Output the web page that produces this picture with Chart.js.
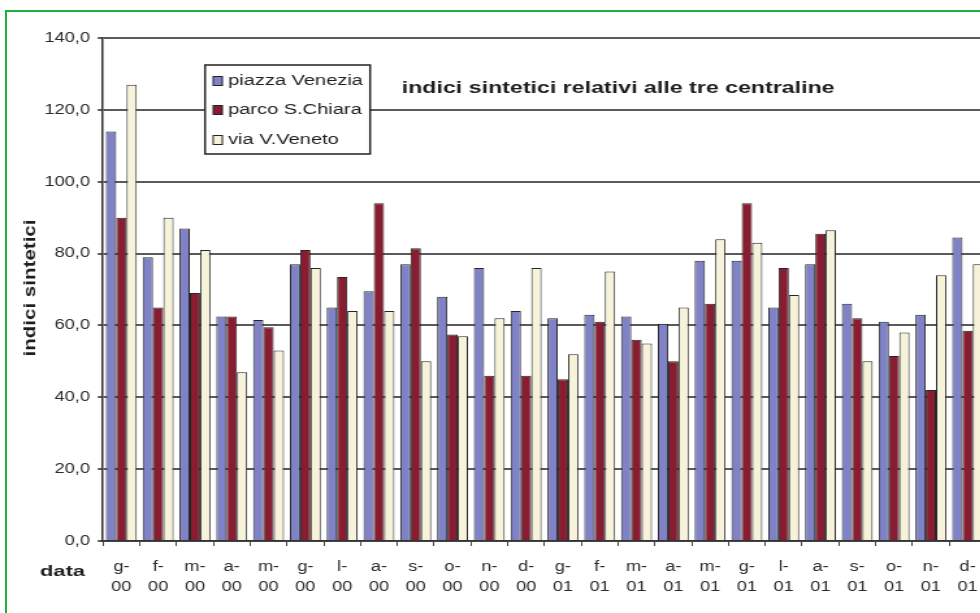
<!DOCTYPE html>
<html lang="it">
<head>
    <meta charset="UTF-8">
    <title>Indici sintetici relativi alle tre centraline</title>
    <script src="https://cdn.jsdelivr.net/npm/chart.js"></script>
    <style>
        body {
            margin: 0;
            background: #fff;
            overflow: hidden;
            width: 980px;
            height: 613px;
            position: relative;
        }
        #frame {
            position: absolute;
            left: 5px;
            top: 10px;
            width: 1000px;
            height: 700px;
            border: 2px solid #1fb13b;
        }
        #wrap {
            position: absolute;
            left: 0;
            top: 0;
            transform: scaleX(1.3);
            transform-origin: 0 0;
        }
    </style>
</head>
<body>
    <div id="frame"></div>
    <div id="wrap">
        <canvas id="chart" width="770" height="613"></canvas>
    </div>
    <script>
        // months (g = gennaio ... d = dicembre), years 00 and 01
        const months = ['g-', 'f-', 'm-', 'a-', 'm-', 'g-', 'l-', 'a-', 's-', 'o-', 'n-', 'd-'];
        const years = ['00', '01'];
        const categories = [];
        years.forEach(y => months.forEach(m => categories.push([m, y])));

        const piazzaVenezia = [114, 79, 87, 62.5, 61.5, 77, 65, 69.5, 77, 68, 76, 64,
                               62, 63, 62.5, 60.5, 78, 78, 65, 77, 66, 61, 63, 84.5];
        const parcoSChiara  = [90, 65, 69, 62.5, 59.5, 81, 73.5, 94, 81.5, 57.5, 46, 46,
                               45, 61, 56, 50, 66, 94, 76, 85.5, 62, 51.5, 42, 58.5];
        const viaVVeneto    = [127, 90, 81, 47, 53, 76, 64, 64, 50, 57, 62, 76,
                               52, 75, 55, 65, 84, 83, 68.5, 86.5, 50, 58, 74, 77];

        const seriesNames = ['piazza Venezia', 'parco S.Chiara', 'via V.Veneto'];
        const seriesColors = ['#7f82c6', '#881c30', '#f7f3da'];

        const chartTitle = 'indici sintetici relativi alle tre centraline';
        const yTitle = 'indici sintetici';
        const xTitle = 'data';

        // draw text stretched to a given width
        function fitText(ctx, text, x, y, w, font, rotate) {
            ctx.save();
            ctx.font = font;
            ctx.fillStyle = '#1e1e1e';
            const m = ctx.measureText(text).width;
            ctx.translate(x, y);
            if (rotate) ctx.rotate(-Math.PI / 2);
            ctx.scale(w / m, 1);
            ctx.textAlign = rotate ? 'center' : 'left';
            ctx.textBaseline = 'middle';
            ctx.fillText(text, 0, 0);
            ctx.restore();
        }

        const extras = {
            id: 'extras',
            afterDraw(chart) {
                const ctx = chart.ctx;

                // legend box
                ctx.save();
                ctx.fillStyle = '#fff';
                ctx.strokeStyle = '#222';
                ctx.lineWidth = 1.5;
                ctx.fillRect(157.7, 65, 127, 89);
                ctx.strokeRect(157.7, 65, 127, 89);
                ctx.font = '14px Arial, "Liberation Sans"';
                const sc = 103.8 / ctx.measureText(seriesNames[0]).width;
                const rows = [81, 110, 140];
                seriesNames.forEach((name, i) => {
                    ctx.fillStyle = seriesColors[i];
                    ctx.fillRect(164, rows[i] - 4.5, 7, 9);
                    ctx.strokeStyle = '#222';
                    ctx.lineWidth = 1;
                    ctx.strokeRect(164, rows[i] - 4.5, 7, 9);
                    ctx.save();
                    ctx.fillStyle = '#1e1e1e';
                    ctx.translate(175.4, rows[i]);
                    ctx.scale(sc, 1);
                    ctx.textBaseline = 'middle';
                    ctx.fillText(name, 0, 0);
                    ctx.restore();
                });
                ctx.restore();

                fitText(ctx, chartTitle, 309, 88, 333, 'bold 17px Arial, "Liberation Sans"');
                fitText(ctx, xTitle, 30.8, 572, 34.6, 'bold 15px Arial, "Liberation Sans"');
                fitText(ctx, yTitle, 23.8, 288, 137, 'bold 13px Arial, "Liberation Sans"', true);
            }
        };

        new Chart(document.getElementById('chart'), {
            type: 'bar',
            data: {
                labels: categories,
                datasets: [piazzaVenezia, parcoSChiara, viaVVeneto].map((d, i) => ({
                    label: seriesNames[i],
                    data: d,
                    backgroundColor: seriesColors[i],
                    borderColor: '#262626',
                    borderWidth: 1,
                    categoryPercentage: 0.84,
                    barPercentage: 1.0
                }))
            },
            options: {
                responsive: false,
                animation: false,
                layout: { padding: { top: 38, right: 11.5, left: 0, bottom: 0 } },
                plugins: {
                    legend: { display: false },
                    tooltip: { enabled: false }
                },
                scales: {
                    x: {
                        afterFit: s => { s.height = 72; },
                        grid: {
                            drawOnChartArea: false,
                            drawTicks: true,
                            tickLength: 5,
                            color: '#444'
                        },
                        border: { color: '#333', width: 1.5 },
                        ticks: {
                            color: '#2a2a2a',
                            padding: 11,
                            maxRotation: 0,
                            autoSkip: false,
                            font: { family: 'Arial, "Liberation Sans"', size: 14, lineHeight: 1.43 }
                        }
                    },
                    y: {
                        min: 0,
                        max: 140,
                        afterFit: s => { s.width = 79.2; },
                        grid: {
                            color: '#5a5a5a',
                            lineWidth: 2,
                            tickLength: 4
                        },
                        border: { color: '#333', width: 1.5 },
                        ticks: {
                            stepSize: 20,
                            color: '#2a2a2a',
                            padding: 6,
                            font: { family: 'Arial, "Liberation Sans"', size: 14 },
                            callback: v => v.toFixed(1).replace('.', ',')
                        }
                    }
                }
            },
            plugins: [extras]
        });
    </script>
</body>
</html>
